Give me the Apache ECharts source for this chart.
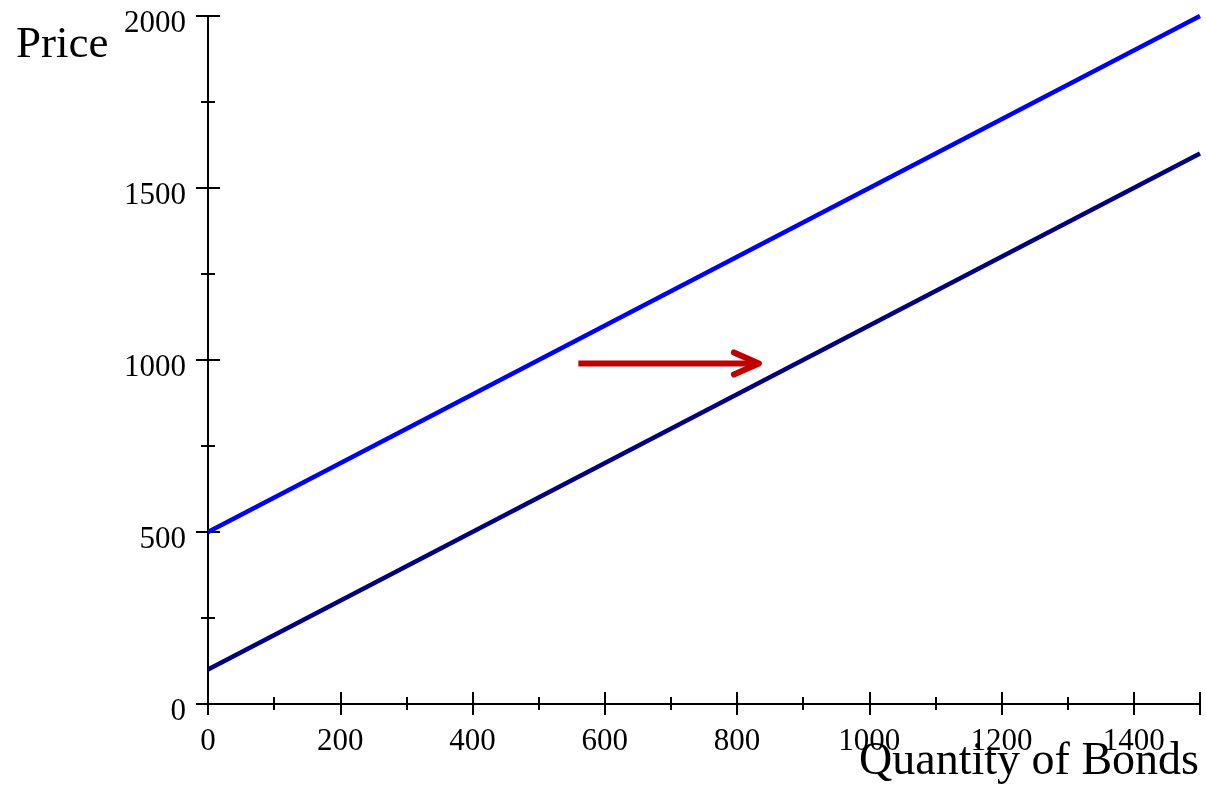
<!DOCTYPE html>
<html>
<head>
<meta charset="utf-8">
<script src="https://cdn.jsdelivr.net/npm/echarts@6/dist/echarts.min.js"></script>
<style>
  html, body { margin: 0; padding: 0; background: #fff; }
  #chart { width: 1206px; height: 789px; }
</style>
</head>
<body>
<div id="chart"></div>
<script>
// Bond supply shift: price vs quantity of bonds
const quantity = [0, 1500];
const priceBefore = [500, 2000];   // original supply curve
const priceAfter = [100, 1600];    // shifted supply curve
const shiftArrow = [[560, 990, 833, 990]]; // [fromQ, fromP, toQ, toP]
const xTicks = { min: 0, max: 1500, interval: 200 };
const yTicks = { min: 0, max: 2000, interval: 500 };

const serif = "'Liberation Serif', 'Times New Roman', 'DejaVu Serif', serif";

function pairs(xs, ys) { return xs.map((x, i) => [x, ys[i]]); }

// Each axis is drawn twice: once with outward ticks + labels, once with inward
// ticks only, so that tick marks cross the axis line.
function xAxisDef(main) {
  return {
    type: 'value', position: 'bottom',
    min: xTicks.min, max: xTicks.max, interval: xTicks.interval,
    axisLine: { show: main, onZero: false, lineStyle: { color: '#000', width: 2 } },
    axisTick: { show: true, inside: !main, length: main ? 11 : 12, lineStyle: { color: '#000', width: 2 } },
    minorTick: { show: true, splitNumber: 2, length: main ? 6 : 7, lineStyle: { color: '#000', width: 2 } },
    axisLabel: {
      show: main, margin: 22, color: '#000', fontFamily: serif, fontSize: 31,
      formatter: v => String(v), showMaxLabel: false
    },
    splitLine: { show: false }, minorSplitLine: { show: false }
  };
}

function yAxisDef(main) {
  return {
    type: 'value', position: 'left',
    min: yTicks.min, max: yTicks.max, interval: yTicks.interval,
    axisLine: { show: main, onZero: false, lineStyle: { color: '#000', width: 2 } },
    axisTick: { show: true, inside: !main, length: 12, lineStyle: { color: '#000', width: 2 } },
    minorTick: { show: true, splitNumber: 2, length: 7, lineStyle: { color: '#000', width: 2 } },
    axisLabel: {
      show: main, margin: 22, color: '#000',
      formatter: v => '{t|' + v + '}',
      rich: { t: { fontFamily: serif, fontSize: 31, color: '#000', padding: [16, 0, 0, 0] } }
    },
    splitLine: { show: false }, minorSplitLine: { show: false }
  };
}

const chart = echarts.init(document.getElementById('chart'));
chart.setOption({
  backgroundColor: '#fff',
  animation: false,
  grid: { left: 208, right: 6, top: 16, bottom: 85, containLabel: false },
  xAxis: [xAxisDef(true), xAxisDef(false)],
  yAxis: [yAxisDef(true), yAxisDef(false)],
  graphic: [
    { type: 'text', left: 16, top: 23,
      style: { text: 'Price', font: '45px ' + serif, fill: '#000' } },
    { type: 'text', right: 7, top: 739,
      style: { text: 'Quantity of Bonds', font: '46px ' + serif, fill: '#000' } }
  ],
  series: [
    {
      type: 'line', data: pairs(quantity, priceBefore), showSymbol: false,
      lineStyle: { color: '#0000ff', width: 4.5 }, z: 3
    },
    {
      type: 'line', data: pairs(quantity, priceAfter), showSymbol: false,
      lineStyle: { color: '#000080', width: 4.5 }, z: 3
    },
    {
      type: 'custom', data: shiftArrow, z: 4,
      renderItem: function (params, api) {
        const a = api.coord([api.value(0), api.value(1)]);
        const b = api.coord([api.value(2), api.value(3)]);
        const red = '#c00000';
        return {
          type: 'group',
          children: [
            { type: 'line', shape: { x1: a[0], y1: a[1], x2: b[0] - 2, y2: b[1] },
              style: { stroke: red, lineWidth: 6, lineCap: 'butt' } },
            { type: 'polyline',
              shape: { points: [[b[0] - 25, b[1] - 11], [b[0], b[1]], [b[0] - 25, b[1] + 11]] },
              style: { stroke: red, fill: null, lineWidth: 6, lineCap: 'round', lineJoin: 'round' } }
          ]
        };
      }
    }
  ]
});
</script>
</body>
</html>
